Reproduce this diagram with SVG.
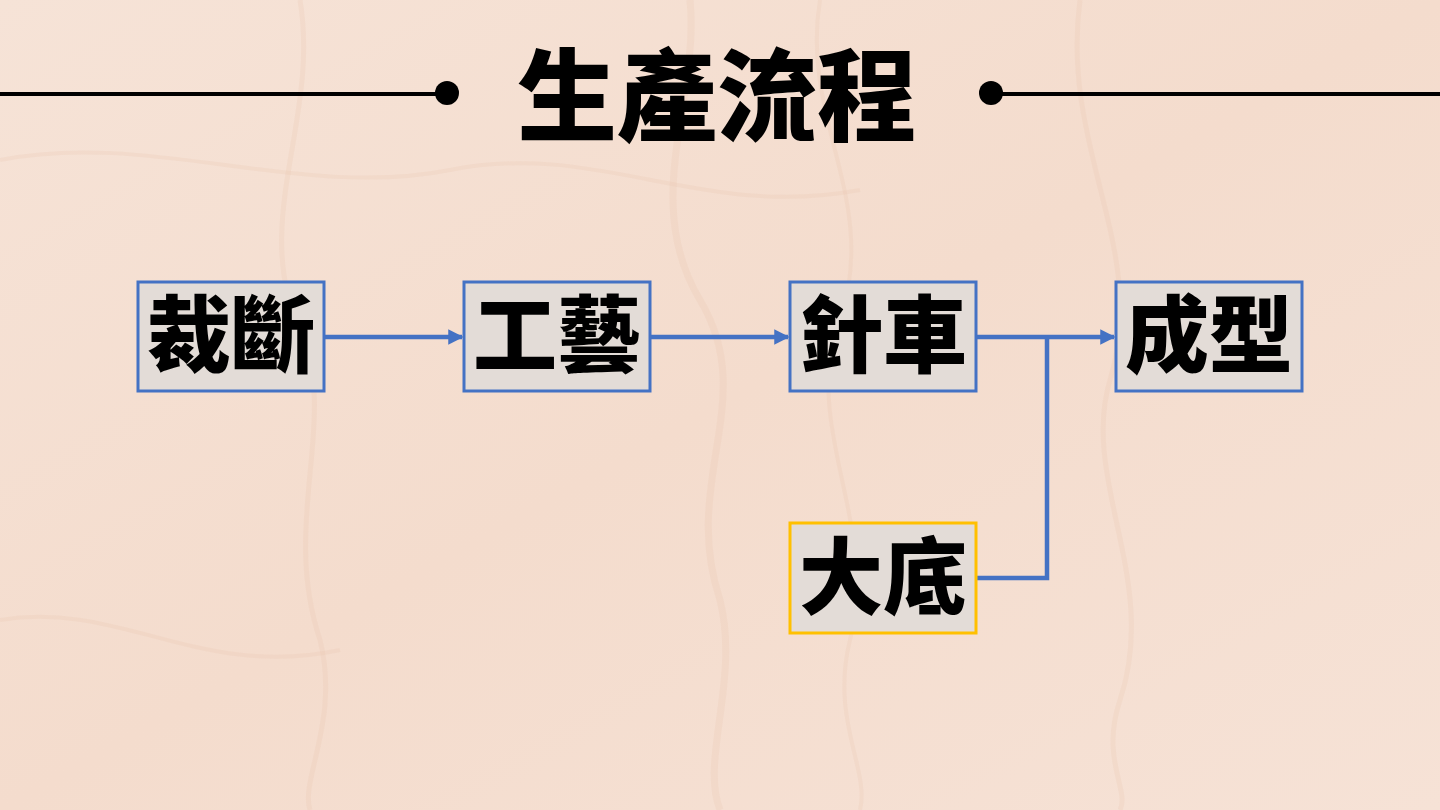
<svg xmlns="http://www.w3.org/2000/svg" width="1440" height="810" viewBox="0 0 1440 810">
<defs>
<style>
.box{fill:#e3dcd7;stroke:#4472c4;stroke-width:3}
.box2{fill:#e3dcd7;stroke:#ffc000;stroke-width:3}
.lbl{font-family:"Noto Sans CJK TC","Noto Sans CJK SC",sans-serif;font-weight:900;font-size:84px;fill:#000;text-anchor:middle}
.title{font-family:"Noto Sans CJK TC","Noto Sans CJK SC",sans-serif;font-weight:900;font-size:100px;fill:#000;text-anchor:middle}
.conn{fill:none;stroke:#4472c4;stroke-width:4.5}
.vein{fill:none;stroke:#e8c4ae;stroke-opacity:0.22}
</style>
<marker id="arr" viewBox="0 0 10 10" refX="9" refY="5" markerWidth="3.4" markerHeight="3.4" orient="auto" markerUnits="strokeWidth">
<path d="M0,0 L10,5 L0,10 z" fill="#4472c4"/>
</marker>
<linearGradient id="bg" x1="0" y1="0" x2="1" y2="1">
<stop offset="0" stop-color="#f6e3d7"/>
<stop offset="0.5" stop-color="#f4dccd"/>
<stop offset="1" stop-color="#f6e2d6"/>
</linearGradient>
</defs>
<rect width="1440" height="810" fill="url(#bg)"/>
<g id="background-veins">
<path class="vein" stroke-width="5" d="M300,0 C320,120 250,220 300,330 C340,420 280,520 320,640 C340,720 300,780 310,810"/>
<path class="vein" stroke-width="7" d="M690,0 C700,100 640,200 700,300 C760,400 680,480 720,600 C740,680 700,760 720,810"/>
<path class="vein" stroke-width="4" d="M820,0 C800,120 880,200 840,320 C800,430 880,520 850,640 C830,720 870,770 860,810"/>
<path class="vein" stroke-width="5" d="M1080,0 C1060,150 1150,250 1110,380 C1080,480 1160,580 1120,700 C1100,760 1130,790 1120,810"/>
<path class="vein" stroke-width="4" d="M0,160 C150,130 300,200 450,170 C600,140 700,220 860,190"/>
<path class="vein" stroke-width="4" d="M0,620 C120,600 200,680 340,650"/>
</g>
<g id="title">
<line x1="0" y1="94" x2="447" y2="94" stroke="#000" stroke-width="4"/>
<circle cx="447" cy="93" r="12" fill="#000"/>
<line x1="991" y1="94" x2="1440" y2="94" stroke="#000" stroke-width="4"/>
<circle cx="991" cy="93" r="12" fill="#000"/>
<text class="title" x="717" y="133">生產流程</text>
</g>
<g id="connectors">
<line class="conn" x1="325" y1="337" x2="462" y2="337" marker-end="url(#arr)"/>
<line class="conn" x1="651" y1="337" x2="788" y2="337" marker-end="url(#arr)"/>
<line class="conn" x1="977" y1="337" x2="1114" y2="337" marker-end="url(#arr)"/>
<polyline class="conn" points="977,578 1047,578 1047,337"/>
</g>
<g id="node-cut">
<rect class="box" x="138" y="282" width="186" height="109"/>
<text class="lbl" x="231" y="366">裁斷</text>
</g>
<g id="node-craft">
<rect class="box" x="464" y="282" width="186" height="109"/>
<text class="lbl" x="557" y="366">工藝</text>
</g>
<g id="node-sew">
<rect class="box" x="790" y="282" width="186" height="109"/>
<text class="lbl" x="883" y="366">針車</text>
</g>
<g id="node-form">
<rect class="box" x="1116" y="282" width="186" height="109"/>
<text class="lbl" x="1209" y="366">成型</text>
</g>
<g id="node-sole">
<rect class="box2" x="790" y="523" width="186" height="110"/>
<text class="lbl" x="883" y="608">大底</text>
</g>
</svg>
